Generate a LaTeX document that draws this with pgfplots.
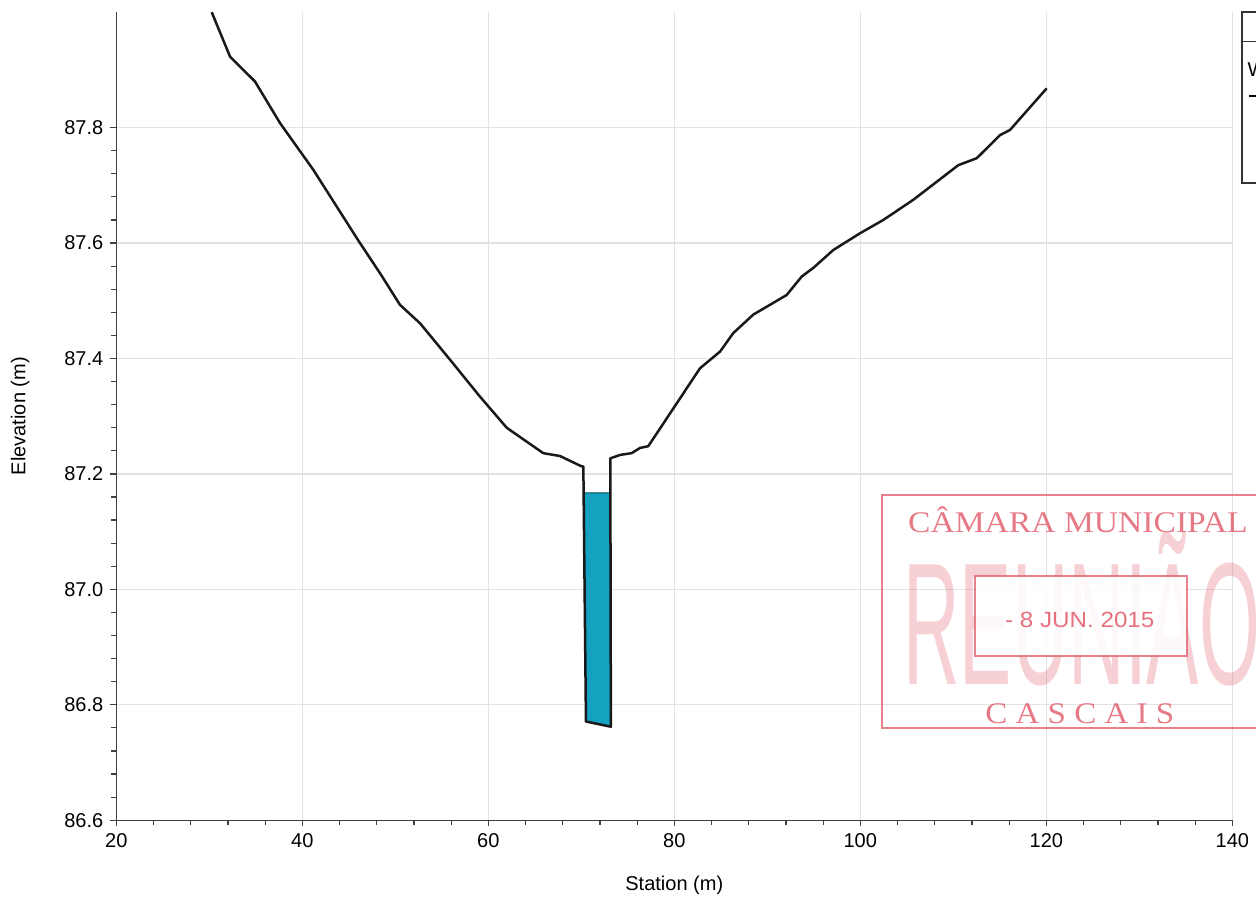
\documentclass[border=0pt]{standalone}
\usepackage{fontspec}
\setmainfont{Liberation Sans}
\newfontfamily\serifstamp{Liberation Serif}
\usepackage{pgfplots}
\pgfplotsset{compat=1.18}
\definecolor{water}{RGB}{20,162,192}
\definecolor{stampred}{RGB}{226,98,112}
\definecolor{gridc}{RGB}{226,226,226}

\begin{document}
\begin{tikzpicture}
\begin{axis}[
  scale only axis, width=558pt, height=404pt,
  xmin=20, xmax=140, ymin=86.6, ymax=88,
  axis x line=bottom, axis y line=left,
  axis line style={-, draw=black!75, line width=0.7pt},
  xtick={20,40,...,140}, ytick={86.6,86.8,87.0,87.2,87.4,87.6,87.8},
  minor x tick num=4, minor y tick num=4,
  tick align=outside, major tick length=3pt, minor tick length=2.5pt,
  every tick/.style={draw=black!75, line width=0.6pt},
  grid=major, major grid style={draw=gridc, line width=0.7pt},
  /pgf/number format/assume math mode=true,
  yticklabel style={/pgf/number format/fixed, /pgf/number format/fixed zerofill, /pgf/number format/precision=1},
  ticklabel style={font=\fontsize{10}{12}\selectfont},
  xlabel={Station (m)}, ylabel={Elevation (m)},
  label style={font=\fontsize{10}{12}\selectfont},
  xlabel style={at={(axis description cs:0.5,-0.0804)}, anchor=center},
  ylabel style={at={(axis description cs:-0.086,0.5)}, anchor=center},
  clip=false,
]
% water
\addplot[fill=water, draw=black!55!water, line width=0.5pt] coordinates {
(70.25,87.167) (73.128,87.167) (73.18,86.762) (70.5,86.771)} -- cycle;
% ground
\addplot[black!90, line width=1.25pt, line join=round] coordinates {
(30.26,88.0) (32.23,87.923) (34.91,87.880) (37.6,87.808) (41.18,87.727)
(46.2,87.600) (48.35,87.548) (50.5,87.493) (52.66,87.461) (55.88,87.398)
(59.1,87.334) (61.98,87.280) (63.76,87.260) (65.91,87.236) (67.71,87.231)
(70.04,87.213) (70.22,87.213) (70.5,86.771)
(73.18,86.762) (73.12,87.227) (74.2,87.233) (75.42,87.236) (76.31,87.245)
(77.2,87.248) (82.76,87.383) (84.92,87.412) (86.34,87.444) (88.49,87.476)
(92.08,87.510) (93.70,87.542) (94.95,87.557) (97.10,87.588) (99.97,87.617)
(102.47,87.640) (105.7,87.675) (110.54,87.735) (112.52,87.747) (115.02,87.787)
(116.1,87.796) (120.04,87.868)};
% stamp
\draw[stampred, line width=1pt, opacity=0.8] (axis cs:102.3,87.164) rectangle (axis cs:150,86.760);
\node[stampred, opacity=0.85, anchor=base, inner sep=0pt, xscale=1.12,
  font=\serifstamp\fontsize{15}{15}\selectfont] at (axis cs:123.4,87.098) {CÂMARA MUNICIPAL};
\node[stampred, opacity=0.3, anchor=base, inner sep=0pt, xscale=0.45,
  font=\fontsize{87}{87}\selectfont] at (axis cs:123.8,86.835) {REUNIÃO};
\draw[stampred, line width=1pt, fill=white, fill opacity=0.85, draw opacity=0.8]
  (axis cs:112.3,87.0225) rectangle (axis cs:135.1,86.884);
\node[stampred, opacity=0.9, anchor=base, inner sep=0pt, xscale=1.1,
  font=\fontsize{11}{11}\selectfont] at (axis cs:123.6,86.934) {- 8 JUN. 2015};
\node[stampred, opacity=0.85, anchor=base, inner sep=0pt, xscale=1.1,
  font=\serifstamp\fontsize{15}{15}\selectfont] at (axis cs:123.6,86.768) {C A S C A I S};
% legend box (mostly outside the picture)
\draw[black!80, line width=0.8pt, fill=white] (axis cs:141.01,88.0) rectangle (axis cs:165,87.704);
\draw[black!80, line width=0.8pt] (axis cs:141.01,87.949) -- (axis cs:165,87.949);
\node[anchor=west, inner sep=0pt, font=\fontsize{10}{12}\selectfont] at (axis cs:141.6,87.9) {WS PF 1};
\draw[black, line width=1pt] (axis cs:141.8,87.855) -- (axis cs:144,87.855);
\coordinate (LL) at (rel axis cs:0,0);
\coordinate (UR) at (rel axis cs:1,1);
\end{axis}
\pgfresetboundingbox
\path[use as bounding box] ([shift={(-58.15pt,-40.5pt)}]LL) rectangle ([shift={(11.85pt,6.1pt)}]UR);
\end{tikzpicture}
\end{document}
